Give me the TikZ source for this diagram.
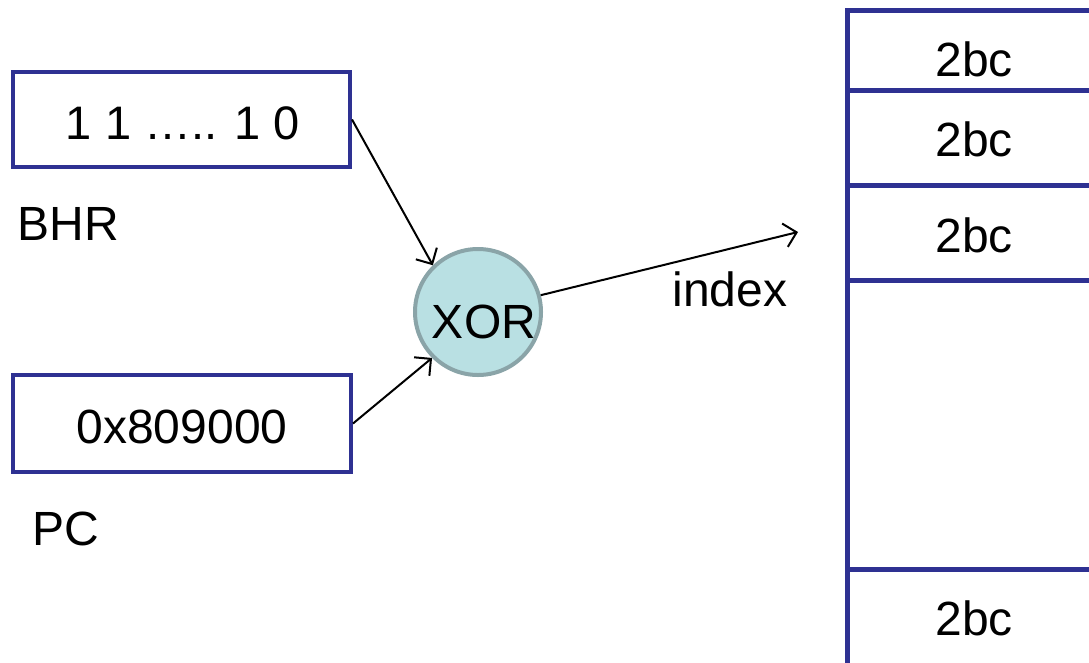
\documentclass[tikz,border=0pt]{standalone}
\usepackage{fontspec}
\setmainfont{Liberation Sans}
\usetikzlibrary{arrows.meta}
\definecolor{regblue}{RGB}{46,49,146}
\definecolor{xorfill}{RGB}{185,224,227}
\definecolor{xoredge}{RGB}{138,164,168}
\tikzset{
  txt/.style={font=\fontsize{48}{52}\selectfont, inner sep=0pt},
  regbox/.style={draw=regblue, line width=4pt, rectangle, inner sep=0pt},
  cell/.style={draw=regblue, line width=4.5pt, rectangle, minimum width=255pt, inner sep=0pt},
  arr/.style={line width=2pt, -{Straight Barb[length=12pt,width=24pt,line width=2pt]}}
}
\begin{document}
\begin{tikzpicture}[x=1pt,y=-1pt]
\useasboundingbox (0,0) rectangle (1089,662);

% input registers
\node[regbox, minimum width=337pt, minimum height=95pt] (bhr) at (181.5,119.5) {};
\node[txt, font=\fontsize{47}{51}\selectfont] (bhrval) at (183,123) {1 1 ….. 1 0};
\node[txt] (bhrlbl) at (68,224) {BHR};

\node[regbox, minimum width=338pt, minimum height=97pt] (pc) at (182,423.5) {};
\node[txt] (pcval) at (182,427) {0x809000};
\node[txt] (pclbl) at (66,529) {PC};

% xor gate
\node[circle, draw=xoredge, fill=xorfill, line width=4pt, minimum size=126pt, inner sep=0pt] (xor) at (478,312) {};
\node[txt] (xortxt) at (484,322) {XOR};

% pattern history table
\node[cell, anchor=north west, minimum height=80pt] (row1) at (845,8) {};
\node[cell, anchor=north west, minimum height=95pt] (row2) at (845,88) {};
\node[cell, anchor=north west, minimum height=95pt] (row3) at (845,183) {};
\node[cell, anchor=north west, minimum height=289pt] (row4) at (845,278) {};
\node[cell, anchor=north west, minimum height=97pt] (row5) at (845,567) {};
\node[txt] (c1) at (974,59) {2bc};
\node[txt] (c2) at (974,139) {2bc};
\node[txt] (c3) at (974,235) {2bc};
\node[txt] (c5) at (974,618) {2bc};

% connectors
\coordinate (idx) at (798,232);
\draw[arr] (bhr.east) -- (xor.134);
\draw[arr] (pc.east) -- (xor.225);
\draw[arr] (xor.15) -- (idx);
\node[txt] (idxlbl) at (730,289) {index};
\end{tikzpicture}
\end{document}
